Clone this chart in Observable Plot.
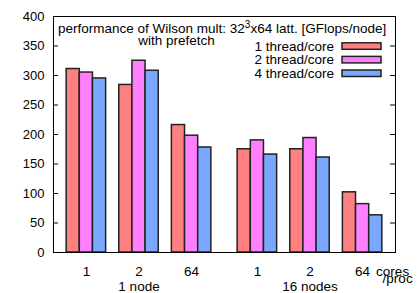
<!DOCTYPE html>
<html>
<head>
<meta charset="utf-8">
<script src="https://cdn.jsdelivr.net/npm/d3@7"></script>
<script src="https://cdn.jsdelivr.net/npm/@observablehq/plot@0.6"></script>
<style>
  html, body { margin: 0; padding: 0; background: #fff; }
</style>
</head>
<body>
<div id="chart"></div>
<script>
const nodeLabels = ["1 node", "16 nodes"];
const coreLabels = ["1", "2", "64"];
const threadLabels = ["1 thread/core", "2 thread/core", "4 thread/core"];
const thread1 = [311, 284, 216, 175, 175, 102];
const thread2 = [305, 325, 198, 190, 194, 82];
const thread4 = [295, 308, 178, 166, 161, 63];
const yTicks = [0, 50, 100, 150, 200, 250, 300, 350, 400];
const colors = ["#ff8080", "#ff80ff", "#7aa8ff"];
const titleParts = ["performance of Wilson mult: 32", "3", "x64 latt. [GFlops/node]"];
const subtitle = "with prefetch";

const series = [thread1, thread2, thread4];
const FONT = "Liberation Sans, Arial, Helvetica, sans-serif";

// groups: node x cores
const groups = [];
nodeLabels.forEach((node, n) => {
  coreLabels.forEach((core, c) => {
    groups.push({node, core, n, c, slot: n * 13 + 1 + c * 4});
  });
});

const bars = [];
groups.forEach((g, gi) => {
  threadLabels.forEach((t, ti) => {
    bars.push({thread: t, value: series[ti][gi], x1: g.slot + ti, x2: g.slot + ti + 1});
  });
});

const groupCenters = groups.map(g => ({...g, center: g.slot + 1.5}));
const nodeCenters = nodeLabels.map((node, n) => ({node, center: groupCenters[n * 3 + 1].center}));
const lastGroup = groupCenters[groupCenters.length - 1];

const W = 420, H = 293, ML = 53, MR = 25, MT = 16, MB = 41;
const innerW = W - ML - MR;

function legendMark(index, scales, values, dims) {
  const g = d3.create("svg:g");
  const right = dims.width - dims.marginRight;
  const top = dims.marginTop;
  threadLabels.forEach((t, i) => {
    const cy = top + 30 + i * 13.6;
    g.append("text")
      .attr("x", right - 61)
      .attr("y", cy)
      .attr("dy", "0.35em")
      .attr("text-anchor", "end")
      .attr("font-family", FONT)
      .attr("font-size", 13.5)
      .attr("fill", "#000")
      .text(t);
    g.append("rect")
      .attr("x", right - 53)
      .attr("y", cy - 3.2)
      .attr("width", 39)
      .attr("height", 6.5)
      .attr("fill", scales.color(t))
      .attr("stroke", "#222")
      .attr("stroke-width", 1.5);
  });
  return g.node();
}

function titleMark(index, scales, values, dims) {
  const g = d3.create("svg:g")
    .attr("font-family", FONT)
    .attr("font-size", 13.5)
    .attr("fill", "#000");
  const left = dims.marginLeft;
  const top = dims.marginTop;
  const t = g.append("text")
    .attr("x", left + 5)
    .attr("y", top + 12)
    .attr("dy", "0.35em")
    .attr("text-anchor", "start");
  t.append("tspan").text(titleParts[0]);
  t.append("tspan").attr("dy", -5).attr("font-size", 10).text(titleParts[1]);
  t.append("tspan").attr("dy", 5).text(titleParts[2]);
  g.append("text")
    .attr("x", left + 123.5)
    .attr("y", top + 24)
    .attr("dy", "0.35em")
    .attr("text-anchor", "middle")
    .text(subtitle);
  return g.node();
}

const chart = Plot.plot({
  width: W,
  height: H,
  marginLeft: ML,
  marginRight: MR,
  marginTop: MT,
  marginBottom: MB,
  style: {fontFamily: FONT, fontSize: "13px", background: "#fff", color: "#000"},
  x: {type: "linear", domain: [0, 26], axis: null},
  y: {domain: [0, 400], axis: null, label: null},
  color: {domain: threadLabels, range: colors},
  marks: [
    Plot.rect(bars, {x1: "x1", x2: "x2", y1: 0, y2: "value", fill: "thread", stroke: "#222", strokeWidth: 1.5}),
    Plot.frame({stroke: "#000", strokeWidth: 1}),
    Plot.ruleY(yTicks, {y: d => d, insetRight: innerW - 5, stroke: "#000"}),
    Plot.ruleY(yTicks, {y: d => d, insetLeft: innerW - 5, stroke: "#000"}),
    Plot.axisY({ticks: yTicks, tickSize: 0, tickPadding: 9, fontSize: 13, fill: "#000", label: null}),
    Plot.text(groupCenters, {x: "center", y: 0, text: "core", dy: 19, fontSize: 13.5, fill: "#000", lineAnchor: "middle"}),
    Plot.text(nodeCenters, {x: "center", y: 0, text: "node", dy: 34, fontSize: 13.5, fill: "#000", lineAnchor: "middle"}),
    Plot.text([lastGroup], {x: "center", y: 0, text: () => "cores", dx: 13.5, dy: 19, textAnchor: "start", fontSize: 13.5, fill: "#000", lineAnchor: "middle"}),
    Plot.text([lastGroup], {x: "center", y: 0, text: () => "/proc", dx: 20, dy: 26, textAnchor: "start", fontSize: 13.5, fill: "#000", lineAnchor: "middle"}),
    titleMark,
    legendMark
  ]
});

document.getElementById("chart").appendChild(chart);
</script>
</body>
</html>
